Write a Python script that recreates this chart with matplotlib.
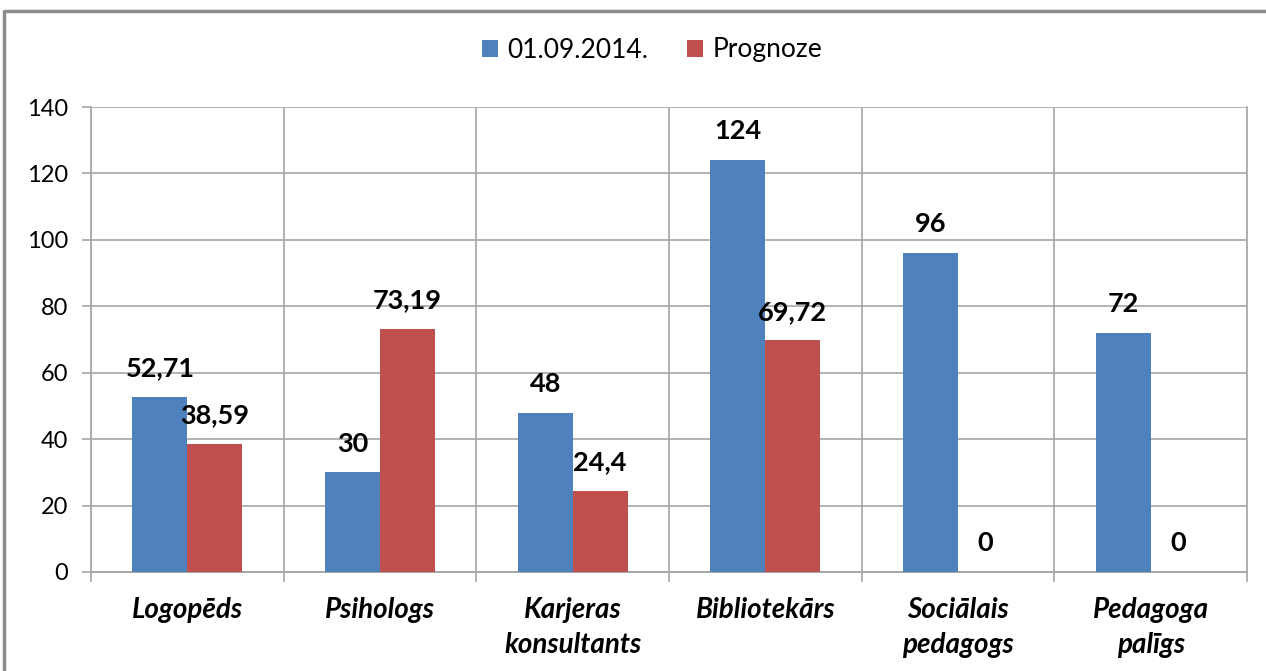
import matplotlib
matplotlib.use("Agg")
import matplotlib.pyplot as plt
import numpy as np
from matplotlib.lines import Line2D

categories = ["Logopēds", "Psihologs", "Karjeras\nkonsultants", "Bibliotekārs",
              "Sociālais\npedagogs", "Pedagoga\npalīgs"]
series_names = ["01.09.2014.", "Prognoze"]
values_2014 = [52.71, 30, 48, 124, 96, 72]
values_prog = [38.59, 73.19, 24.4, 69.72, 0, 0]
y_ticks = [0, 20, 40, 60, 80, 100, 120, 140]

colors = ["#4F81BD", "#C0504D"]
grid_col = "#A6A6A6"

plt.rcParams["font.family"] = ["Lato", "DejaVu Sans"]

W, H = 1266, 671
fig = plt.figure(figsize=(W / 100, H / 100), dpi=100)
ax = fig.add_axes([91 / W, 1 - 572 / H, (1247 - 91) / W, (572 - 107) / H])

x = np.arange(len(categories))
bw = 0.285
bars1 = ax.bar(x - bw / 2, values_2014, bw, color=colors[0], label=series_names[0], zorder=3)
bars2 = ax.bar(x + bw / 2, values_prog, bw, color=colors[1], label=series_names[1], zorder=3)


def fmt(v):
    return ("%g" % v).replace(".", ",")


for bars, vals in ((bars1, values_2014), (bars2, values_prog)):
    for b, v in zip(bars, vals):
        ax.annotate(fmt(v), (b.get_x() + b.get_width() / 2, v),
                    xytext=(0, 12), textcoords="offset points",
                    ha="center", va="bottom", fontsize=19.5, fontweight="bold",
                    color="black", zorder=5)

ax.set_xlim(-0.5, len(categories) - 0.5)
ax.set_ylim(0, 140)
ax.set_yticks(y_ticks)
ax.set_yticklabels([str(t) for t in y_ticks], fontsize=17)
ax.tick_params(axis="y", length=6.5, width=1.2, color=grid_col, pad=10)

ax.set_xticks(x)
ax.set_xticklabels(categories, fontsize=20, fontweight="bold", fontstyle="italic",
                   linespacing=1.45)
ax.tick_params(axis="x", which="major", length=0, pad=18)
ax.set_xticks(np.arange(-0.5, len(categories)), minor=True)
ax.tick_params(axis="x", which="minor", length=7.5, width=1.2, color=grid_col)

ax.grid(True, axis="y", color=grid_col, linewidth=1.2, zorder=0)
ax.grid(True, axis="x", which="minor", color=grid_col, linewidth=1.2, zorder=0)
ax.grid(False, axis="x", which="major")
ax.set_axisbelow(True)

ax.spines["top"].set_visible(False)
for s in ["right", "left"]:
    ax.spines[s].set_color(grid_col)
    ax.spines[s].set_linewidth(1.2)
ax.spines["bottom"].set_color(grid_col)
ax.spines["bottom"].set_linewidth(1.4)

leg = fig.legend(handles=[bars1, bars2], labels=series_names, loc="center",
                 bbox_to_anchor=(652 / W, 1 - 50 / H), ncol=2, frameon=False,
                 fontsize=19, handlelength=0.6, handleheight=0.6,
                 handletextpad=0.35, columnspacing=1.5)

# outer chart border (left and top visible)
fig.add_artist(Line2D([4 / W, 4 / W, 1.0], [0, 1 - 11 / H, 1 - 11 / H],
                      transform=fig.transFigure, color="#8C8C8C", linewidth=2.5))

fig.savefig("out.png", dpi=100)
